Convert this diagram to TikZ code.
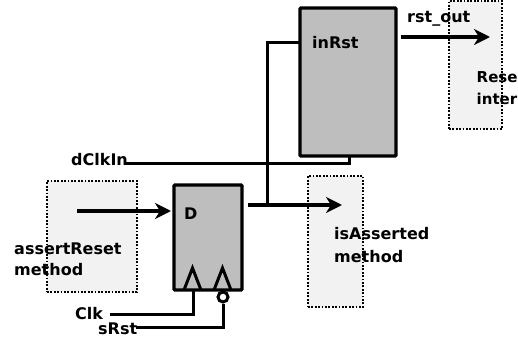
\documentclass[tikz,border=0pt]{standalone}
\usepackage{fontspec}
\setmainfont{DejaVu Sans}
\usetikzlibrary{arrows.meta}
\definecolor{blockgrey}{HTML}{BEBEBE}
\definecolor{methodgrey}{HTML}{F2F2F2}
\tikzset{
  x=1pt,y=-1pt,
  block/.style={draw=black,fill=blockgrey,line width=3.4pt,rounded corners=1pt,inner sep=0pt},
  method/.style={draw=black,fill=methodgrey,line width=2.8pt,dash pattern=on 1.8pt off 1.6pt,inner sep=0pt},
  lbl/.style={inner sep=0pt,anchor=base west,font=\bfseries\fontsize{16pt}{18pt}\selectfont},
  lblcut/.style={lbl,font=\bfseries\fontsize{15pt}{18pt}\selectfont},
  wire/.style={draw=black,line width=3pt},
  sig/.style={draw=black,line width=3.2pt,-{Stealth[length=16pt,width=16pt,inset=5pt]}},
  clkmark/.style={draw=black,line width=3pt,fill=none,line join=miter},
  bubble/.style={circle,draw=black,fill=white,line width=3pt,minimum size=10pt,inner sep=0pt}
}
\begin{document}
\begin{tikzpicture}
\useasboundingbox (0,0) rectangle (518,339);
% method boxes
\node[method,minimum width=53pt,minimum height=128pt] (iface) at (475.5,65) {};
\node[method,minimum width=90pt,minimum height=111pt] (assert) at (92,236.5) {};
\node[method,minimum width=55pt,minimum height=131pt] (isas) at (335.5,241.5) {};
% register blocks
\node[block,minimum width=96pt,minimum height=148pt] (inrst) at (348,82) {};
\node[block,minimum width=68pt,minimum height=105pt] (dff) at (208,237.5) {};
% labels
\node[lbl] (linrst) at (312,49) {inRst};
\node[lbl] (lrstout) at (407,23) {rst\_out};
\node[lblcut] (lrese) at (476.5,83) {Rese};
\node[lblcut] (linter) at (476.5,105) {inter};
\node[lbl] (ldclk) at (71,165) {dClkIn};
\node[lbl] (ld) at (184,219) {D};
\node[lbl] (lassert) at (14,254) {assertReset};
\node[lbl] (lmeth) at (14,275) {method};
\node[lbl] (lisas) at (334,239) {isAsserted};
\node[lbl] (lisam) at (334,262) {method};
\node[lbl] (lclk) at (75,319) {Clk};
\node[lbl] (lsrst) at (98,334) {sRst};
% clock triangles
\coordinate (ck1l) at (184,290); \coordinate (ck1t) at (192.5,268); \coordinate (ck1r) at (201,290);
\coordinate (ck2l) at (214,290); \coordinate (ck2t) at (222.5,268); \coordinate (ck2r) at (231,290);
\draw[clkmark] (ck1l) -- (ck1t) -- (ck1r);
\draw[clkmark] (ck2l) -- (ck2t) -- (ck2r);
\node[bubble] (bub) at (223,297) {};
% connectors
\coordinate (clkfree) at (110,314);
\coordinate (clkpin) at (193,290);
\draw[wire] (clkfree) -| (clkpin);
\coordinate (srstfree) at (136,327);
\draw[wire] (srstfree) -| (bub.south);
\coordinate (dclkfree) at (126,163);
\coordinate (dclkup) at (349,156);
\draw[wire] (dclkfree) -| (dclkup);
\coordinate (dffout) at (248,205);
\coordinate (branch) at (267,205);
\coordinate (inrstin) at (300,43);
\draw[wire] (branch) |- (inrstin);
\coordinate (isasend) at (342,205);
\draw[sig] (dffout) -- (isasend);
\coordinate (assstart) at (77,211);
\coordinate (dinp) at (171,211);
\draw[sig] (assstart) -- (dinp);
\coordinate (outstart) at (401,37);
\coordinate (outend) at (490,37);
\draw[sig] (outstart) -- (outend);
\end{tikzpicture}
\end{document}
